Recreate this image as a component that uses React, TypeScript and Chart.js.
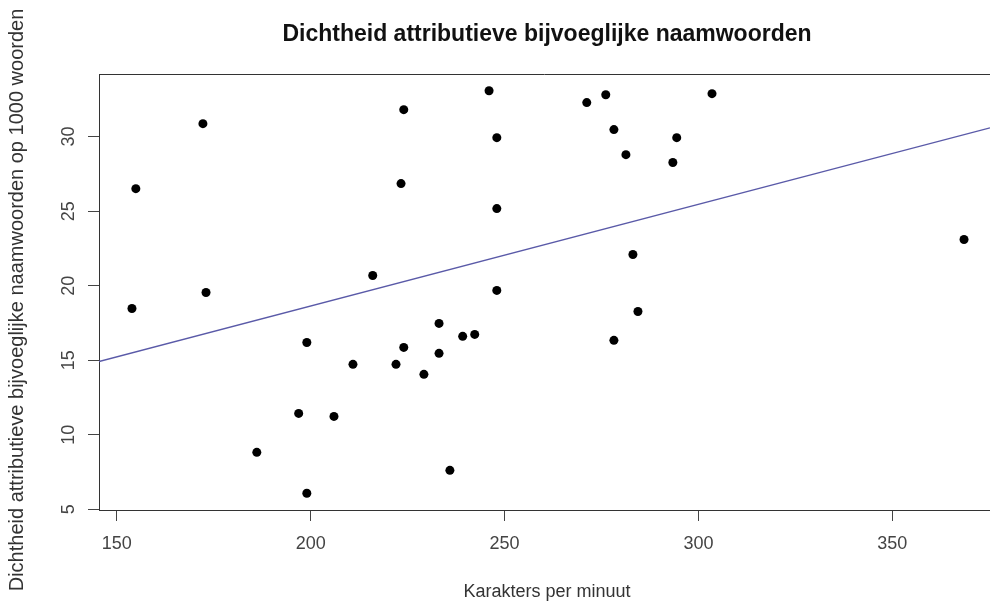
import React, { useEffect, useRef } from "react";
import { Chart, registerables } from "chart.js";

Chart.register(...registerables);

// Karakters per minuut (x) and density per 1000 words (y)
const charsPerMinute = [
  153.9, 154.9, 172.2, 173.0, 186.1, 196.9, 199.0, 199.0, 206.0, 210.9,
  216.0, 222.0, 223.3, 224.0, 224.0, 229.2, 233.1, 233.1, 235.9, 239.2,
  242.3, 246.0, 248.0, 248.0, 248.0, 271.2, 276.1, 278.2, 281.3, 283.1,
  284.4, 278.2, 293.4, 294.4, 303.5, 368.5,
];
const adjectiveDensity = [
  18.47, 26.51, 30.87, 19.54, 8.82, 11.43, 16.19, 6.07, 11.23, 14.72,
  20.68, 14.72, 26.85, 31.81, 15.86, 14.05, 17.47, 15.46, 7.61, 16.6,
  16.73, 33.08, 29.93, 25.17, 19.68, 32.28, 32.81, 30.47, 28.79, 22.09,
  18.27, 16.33, 28.26, 29.93, 32.88, 23.1,
];
const xTickValues = [150, 200, 250, 300, 350];
const yTickValues = [5, 10, 15, 20, 25, 30];

const TITLE = "Dichtheid attributieve bijvoeglijke naamwoorden";
const X_TITLE = "Karakters per minuut";
const Y_TITLE = "Dichtheid attributieve bijvoeglijke naamwoorden op 1000 woorden";

const X_MIN = 145.4;
const X_MAX = 375.2;
const Y_MIN = 4.95;
const Y_MAX = 34.2;

const FONT = "'Liberation Sans', Arial, sans-serif";

function leastSquares(xs: number[], ys: number[]) {
  const n = xs.length;
  const mx = xs.reduce((a, b) => a + b, 0) / n;
  const my = ys.reduce((a, b) => a + b, 0) / n;
  let sxy = 0;
  let sxx = 0;
  for (let i = 0; i < n; i++) {
    sxy += (xs[i] - mx) * (ys[i] - my);
    sxx += (xs[i] - mx) * (xs[i] - mx);
  }
  const slope = sxy / sxx;
  return { slope, intercept: my - slope * mx };
}

export default function App() {
  const ref = useRef<HTMLCanvasElement | null>(null);

  useEffect(() => {
    if (!ref.current) return;
    const { slope, intercept } = leastSquares(charsPerMinute, adjectiveDensity);
    const points = charsPerMinute.map((x, i) => ({ x, y: adjectiveDensity[i] }));
    const trend = [X_MIN, X_MAX].map((x) => ({ x, y: intercept + slope * x }));

    const decor = {
      id: "rDecor",
      afterDraw(chart: any) {
        const ctx = chart.ctx;
        const area = chart.chartArea;
        ctx.save();
        // top border of box
        ctx.strokeStyle = "#333";
        ctx.lineWidth = 1;
        ctx.beginPath();
        ctx.moveTo(area.left, area.top + 0.5);
        ctx.lineTo(area.right, area.top + 0.5);
        ctx.stroke();

        // y tick labels (rotated like R)
        const ys = chart.scales.y;
        ctx.fillStyle = "#444";
        ctx.font = `18px ${FONT}`;
        ctx.textAlign = "center";
        ctx.textBaseline = "middle";
        ys.ticks.forEach((t: any) => {
          const py = ys.getPixelForValue(t.value);
          ctx.save();
          ctx.translate(69, py);
          ctx.rotate(-Math.PI / 2);
          ctx.fillText(String(t.value), 0, 0);
          ctx.restore();
        });

        // title
        ctx.fillStyle = "#111";
        ctx.font = `bold 23px ${FONT}`;
        ctx.textAlign = "center";
        ctx.textBaseline = "alphabetic";
        ctx.fillText(TITLE, 547, 41);

        // x title
        ctx.fillStyle = "#333";
        ctx.font = `18px ${FONT}`;
        ctx.fillText(X_TITLE, 547, 597);

        // y title
        ctx.font = `20px ${FONT}`;
        ctx.save();
        ctx.translate(23, 300);
        ctx.rotate(-Math.PI / 2);
        ctx.fillText(Y_TITLE, 0, 0);
        ctx.restore();
        ctx.restore();
      },
    };

    const chart = new Chart(ref.current, {
      type: "scatter",
      data: {
        datasets: [
          {
            label: "punten",
            data: points,
            backgroundColor: "#000",
            borderWidth: 0,
            pointRadius: 4.5,
            pointHoverRadius: 4.5,
            order: 1,
          },
          {
            label: "regressielijn",
            data: trend,
            showLine: true,
            borderColor: "#5a5aa8",
            borderWidth: 1.3,
            pointRadius: 0,
            fill: false,
            order: 2,
          } as any,
        ],
      },
      options: {
        responsive: false,
        animation: false,
        devicePixelRatio: 1,
        layout: { autoPadding: false, padding: { top: 74, left: 0, right: 0, bottom: 0 } },
        plugins: {
          legend: { display: false },
          title: { display: false },
          tooltip: { enabled: false },
        },
        scales: {
          x: {
            type: "linear",
            min: X_MIN,
            max: X_MAX,
            afterFit: (s: any) => {
              s.height = 94;
            },
            afterBuildTicks: (s: any) => {
              s.ticks = xTickValues.map((v) => ({ value: v }));
            },
            ticks: {
              includeBounds: false,
              padding: 12,
              color: "#444",
              font: { family: FONT, size: 18 },
              maxRotation: 0,
              minRotation: 0,
            },
            grid: {
              drawOnChartArea: false,
              drawTicks: true,
              tickLength: 11,
              color: "#444",
            },
            border: { display: true, color: "#333", width: 1 },
          },
          y: {
            type: "linear",
            min: Y_MIN,
            max: Y_MAX,
            afterFit: (s: any) => {
              s.width = 99;
            },
            afterBuildTicks: (s: any) => {
              s.ticks = yTickValues.map((v) => ({ value: v }));
            },
            ticks: { display: false, includeBounds: false },
            grid: {
              drawOnChartArea: false,
              drawTicks: true,
              tickLength: 11,
              color: "#444",
            },
            border: { display: true, color: "#333", width: 1 },
          },
        },
      },
      plugins: [decor],
    });
    return () => chart.destroy();
  }, []);

  return (
    <div style={{ position: "fixed", left: 0, top: 0, width: 990, height: 604, background: "#fff" }}>
      <canvas ref={ref} width={990} height={604} />
    </div>
  );
}
